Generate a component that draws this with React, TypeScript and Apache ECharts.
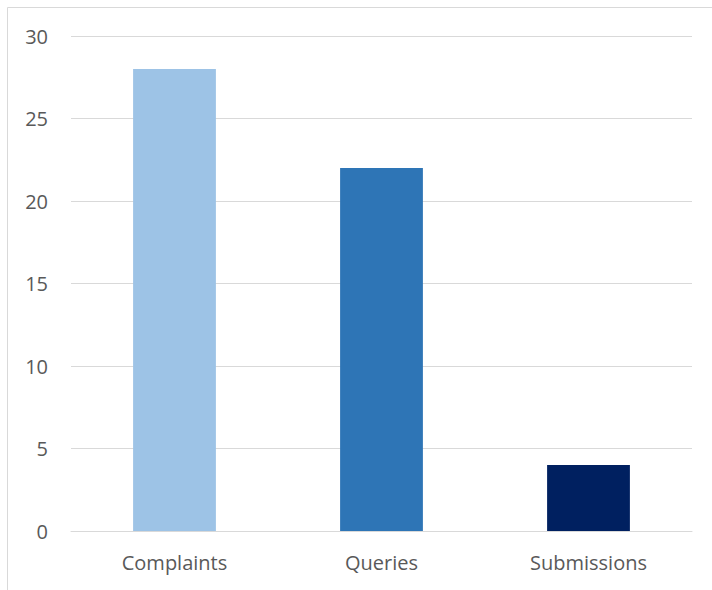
import React, { useEffect, useRef } from "react";
import * as echarts from "echarts";

const categories = ["Complaints", "Queries", "Submissions"];
const values = [28, 22, 4];
const barColors = ["#9DC3E6", "#2E75B6", "#002060"];

export default function App() {
  const ref = useRef<HTMLDivElement>(null);
  useEffect(() => {
    if (!ref.current) return;
    const chart = echarts.init(ref.current, undefined, { renderer: "svg" });
    chart.setOption({
      animation: false,
      backgroundColor: "#ffffff",
      graphic: [
        {
          type: "rect",
          shape: { x: 7.5, y: 7.5, width: 720, height: 600 },
          style: { fill: "none", stroke: "#d9d9d9", lineWidth: 1 },
          silent: true,
        },
      ],
      grid: { left: 71, right: 20, top: 36, bottom: 59, containLabel: false },
      xAxis: {
        type: "category",
        data: categories,
        axisLine: { show: true, lineStyle: { color: "#d9d9d9", width: 1 } },
        axisTick: { show: false },
        axisLabel: {
          color: "#595959",
          fontSize: 20,
          fontFamily: "'Open Sans', sans-serif",
          margin: 21,
        },
      },
      yAxis: {
        type: "value",
        min: 0,
        max: 30,
        interval: 5,
        axisLine: { show: false },
        axisTick: { show: false },
        splitLine: { lineStyle: { color: "#d9d9d9", width: 1 } },
        axisLabel: {
          color: "#595959",
          fontSize: 20,
          fontFamily: "'Open Sans', sans-serif",
          margin: 23,
        },
      },
      series: [
        {
          type: "bar",
          barWidth: "40%",
          data: values.map((v, i) => ({ value: v, itemStyle: { color: barColors[i] } })),
        },
      ],
    });
    return () => chart.dispose();
  }, []);
  return (
    <div
      ref={ref}
      style={{ position: "absolute", left: 0, top: 0, width: 712, height: 590 }}
    />
  );
}
